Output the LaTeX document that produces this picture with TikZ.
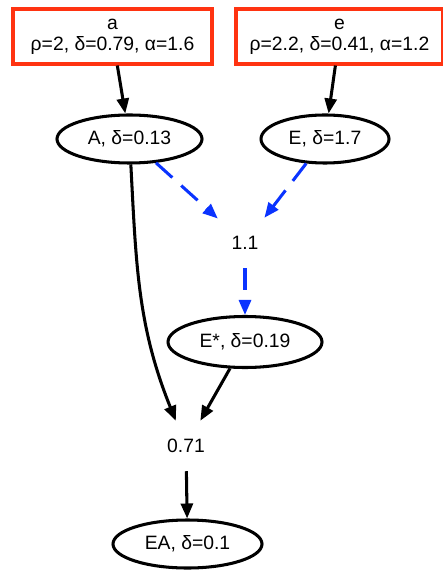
\documentclass[tikz,border=0pt]{standalone}
\usepackage{fontspec}
\setmainfont{Liberation Sans}
\usepackage{tikz}
\usetikzlibrary{shapes.geometric, arrows.meta, positioning}

\definecolor{boxred}{HTML}{FF3311}
\definecolor{edgeblue}{HTML}{0A33FF}

\begin{document}
\begin{tikzpicture}[
    srcbox/.style={rectangle, draw=boxred, line width=2.6pt, minimum height=1.65cm, align=center, inner sep=2pt, font=\fontsize{16.5}{18}\selectfont},
    latent/.style={ellipse, draw, line width=2.6pt, minimum height=1.44cm, inner sep=0pt, font=\fontsize{16.5}{18}\selectfont},
    valnode/.style={rectangle, minimum width=1.62cm, minimum height=1.5cm, inner sep=0pt, font=\fontsize{16.5}{18}\selectfont},
    relation/.style={-{Triangle[length=0.45cm, width=0.36cm]}, line width=2.6pt},
    dashrel/.style={relation, draw=edgeblue, dash pattern=on 0.66cm off 0.36cm},
  ]
    \useasboundingbox (0,0) rectangle (13.29,-17.13);

    % source boxes
    \node[srcbox, minimum width=5.97cm] (a) at (3.375,-1.095) {a\\ρ=2, δ=0.79, α=1.6};
    \node[srcbox, minimum width=6.21cm] (e) at (10.185,-1.095) {e\\ρ=2.2, δ=0.41, α=1.2};

    % latent nodes
    \node[latent, minimum width=4.35cm] (A) at (3.885,-4.17) {A, δ=0.13};
    \node[latent, minimum width=3.84cm] (E) at (9.75,-4.17) {E, δ=1.7};
    \node[latent, minimum width=4.62cm, minimum height=1.53cm] (Estar) at (7.35,-10.26) {E*, δ=0.19};
    \node[latent, minimum width=4.47cm] (EA) at (5.625,-16.32) {EA, δ=0.1};

    % values
    \node[valnode] (v11) at (7.35,-7.29) {1.1};
    \node[valnode] (v071) at (5.58,-13.38) {0.71};

    % edges
    \draw[relation] (a) -- (A);
    \draw[relation] (e) -- (E);
    \draw[dashrel] (A) -- (v11);
    \draw[dashrel] (E) -- (v11);
    \draw[dashrel] (v11) -- (Estar);
    \draw[relation] (A) to[out=-87, in=112] (v071);
    \draw[relation] (Estar) -- (v071);
    \draw[relation] (v071) -- (EA);

  \end{tikzpicture}
\end{document}
